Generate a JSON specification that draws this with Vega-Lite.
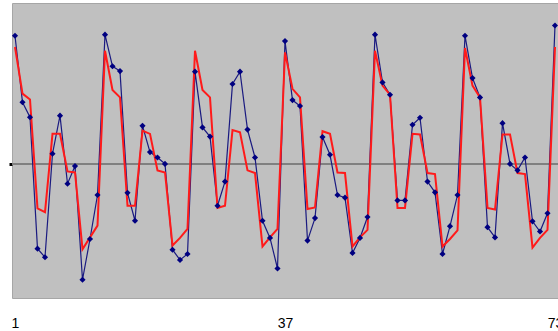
{
  "$schema": "https://vega.github.io/schema/vega-lite/v6.json",
  "autosize": "none",
  "width": 546,
  "height": 295,
  "padding": {"left": 12, "top": 3, "right": 0, "bottom": 33},
  "background": "white",
  "config": {
    "view": {"fill": "#c0c0c0", "stroke": "#a6a6a6", "strokeWidth": 1},
    "font": "Liberation Sans"
  },
  "data": {
    "values": [
      {"i": 1, "actual": 2.39, "fit": 2.18},
      {"i": 2, "actual": 1.15, "fit": 1.31},
      {"i": 3, "actual": 0.87, "fit": 1.20},
      {"i": 4, "actual": -1.58, "fit": -0.83},
      {"i": 5, "actual": -1.74, "fit": -0.90},
      {"i": 6, "actual": 0.19, "fit": 0.56},
      {"i": 7, "actual": 0.90, "fit": 0.56},
      {"i": 8, "actual": -0.37, "fit": -0.14},
      {"i": 9, "actual": -0.04, "fit": -0.16},
      {"i": 10, "actual": -2.16, "fit": -1.59},
      {"i": 11, "actual": -1.40, "fit": -1.37},
      {"i": 12, "actual": -0.58, "fit": -1.15},
      {"i": 13, "actual": 2.41, "fit": 2.11},
      {"i": 14, "actual": 1.82, "fit": 1.38},
      {"i": 15, "actual": 1.73, "fit": 1.24},
      {"i": 16, "actual": -0.54, "fit": -0.78},
      {"i": 17, "actual": -1.06, "fit": -0.78},
      {"i": 18, "actual": 0.71, "fit": 0.62},
      {"i": 19, "actual": 0.22, "fit": 0.56},
      {"i": 20, "actual": 0.12, "fit": -0.12},
      {"i": 21, "actual": 0.00, "fit": -0.16},
      {"i": 22, "actual": -1.60, "fit": -1.52},
      {"i": 23, "actual": -1.79, "fit": -1.38},
      {"i": 24, "actual": -1.68, "fit": -1.21},
      {"i": 25, "actual": 1.72, "fit": 2.11},
      {"i": 26, "actual": 0.68, "fit": 1.38},
      {"i": 27, "actual": 0.51, "fit": 1.24},
      {"i": 28, "actual": -0.78, "fit": -0.82},
      {"i": 29, "actual": -0.33, "fit": -0.78},
      {"i": 30, "actual": 1.49, "fit": 0.63},
      {"i": 31, "actual": 1.72, "fit": 0.59},
      {"i": 32, "actual": 0.64, "fit": -0.12},
      {"i": 33, "actual": 0.12, "fit": -0.17},
      {"i": 34, "actual": -1.06, "fit": -1.54},
      {"i": 35, "actual": -1.38, "fit": -1.37},
      {"i": 36, "actual": -1.95, "fit": -1.21},
      {"i": 37, "actual": 2.29, "fit": 2.08},
      {"i": 38, "actual": 1.19, "fit": 1.40},
      {"i": 39, "actual": 1.08, "fit": 1.24},
      {"i": 40, "actual": -1.43, "fit": -0.84},
      {"i": 41, "actual": -1.01, "fit": -0.81},
      {"i": 42, "actual": 0.50, "fit": 0.61},
      {"i": 43, "actual": 0.17, "fit": 0.56},
      {"i": 44, "actual": -0.58, "fit": -0.16},
      {"i": 45, "actual": -0.63, "fit": -0.17},
      {"i": 46, "actual": -1.66, "fit": -1.54},
      {"i": 47, "actual": -1.38, "fit": -1.37},
      {"i": 48, "actual": -0.99, "fit": -1.23},
      {"i": 49, "actual": 2.41, "fit": 2.11},
      {"i": 50, "actual": 1.52, "fit": 1.46},
      {"i": 51, "actual": 1.29, "fit": 1.29},
      {"i": 52, "actual": -0.68, "fit": -0.82},
      {"i": 53, "actual": -0.68, "fit": -0.82},
      {"i": 54, "actual": 0.73, "fit": 0.56},
      {"i": 55, "actual": 0.86, "fit": 0.55},
      {"i": 56, "actual": -0.33, "fit": -0.17},
      {"i": 57, "actual": -0.53, "fit": -0.19},
      {"i": 58, "actual": -1.68, "fit": -1.54},
      {"i": 59, "actual": -1.16, "fit": -1.40},
      {"i": 60, "actual": -0.58, "fit": -1.24},
      {"i": 61, "actual": 2.39, "fit": 2.16},
      {"i": 62, "actual": 1.60, "fit": 1.46},
      {"i": 63, "actual": 1.24, "fit": 1.24},
      {"i": 64, "actual": -1.18, "fit": -0.82},
      {"i": 65, "actual": -1.37, "fit": -0.85},
      {"i": 66, "actual": 0.76, "fit": 0.55},
      {"i": 67, "actual": 0.00, "fit": 0.55},
      {"i": 68, "actual": -0.12, "fit": -0.17},
      {"i": 69, "actual": 0.12, "fit": -0.19},
      {"i": 70, "actual": -1.07, "fit": -1.56},
      {"i": 71, "actual": -1.26, "fit": -1.38},
      {"i": 72, "actual": -0.92, "fit": -1.23},
      {"i": 73, "actual": 2.58, "fit": 2.18}
    ]
  },
  "encoding": {
    "x": {
      "field": "i",
      "type": "quantitative",
      "scale": {"domain": [0.6, 73.4], "nice": false, "zero": false},
      "axis": {
        "values": [1, 37, 73],
        "title": null,
        "grid": false,
        "ticks": false,
        "domain": false,
        "labelFontSize": 14,
        "labelColor": "#000000",
        "labelPadding": 18,
        "labelFlush": false,
        "labelOverlap": false
      }
    }
  },
  "layer": [
    {
      "mark": {"type": "rule", "color": "#808080", "strokeWidth": 1.5},
      "encoding": {"y": {"datum": 0, "type": "quantitative", "scale": {"domain": [-2.5, 3], "nice": false}, "axis": {"values": [0], "title": null, "labels": false, "grid": false, "domain": false, "tickSize": 3, "tickWidth": 3, "tickColor": "#000000"}}, "x": null}
    },
    {
      "mark": {"type": "line", "color": "#1a1a80", "strokeWidth": 1.2},
      "encoding": {"y": {"field": "actual", "type": "quantitative"}}
    },
    {
      "mark": {"type": "line", "color": "#ff1a1a", "strokeWidth": 2},
      "encoding": {"y": {"field": "fit", "type": "quantitative"}}
    },
    {
      "mark": {"type": "point", "shape": "diamond", "filled": true, "size": 38, "color": "#000080", "opacity": 1},
      "encoding": {"y": {"field": "actual", "type": "quantitative"}}
    }
  ]
}
